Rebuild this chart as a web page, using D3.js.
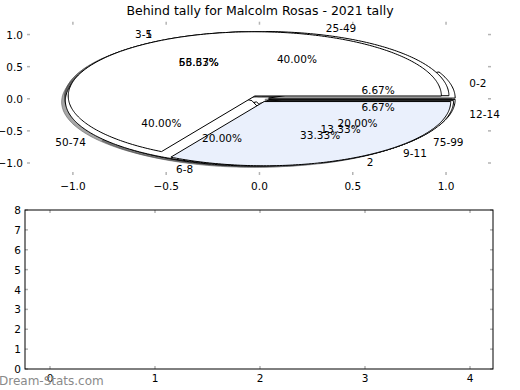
<!DOCTYPE html>
<html>
<head>
<meta charset="utf-8">
<script src="https://cdn.jsdelivr.net/npm/d3@7"></script>
<style>
  body { margin: 0; background: #fff; }
  svg { display: block; }
  text { font-family: "DejaVu Sans", sans-serif; }
</style>
</head>
<body>
<div id="chart"></div>
<script>
const chartTitle = "Behind tally for Malcolm Rosas - 2021 tally";

// three pies got drawn on the same axes
const labelsA = ["1", "2"];
const valuesA = [10, 5];
const labelsB = ["0-2", "3-5", "6-8", "9-11", "12-14"];
const valuesB = [1, 8, 3, 2, 1];
const labelsC = ["25-49", "50-74", "75-99"];
const valuesC = [6, 6, 3];

const pieTicks = [-1.0, -0.5, 0.0, 0.5, 1.0];
const barXTicks = [0, 1, 2, 3, 4];
const barYTicks = [0, 1, 2, 3, 4, 5, 6, 7, 8];

const watermark = "Dream-Stats.com";

const W = 520, H = 390;
const svg = d3.select("#chart").append("svg")
  .attr("width", W)
  .attr("height", H);

const tickColor = "#b4b4b4";
const fmtTick = d => d3.format(".1f")(d).replace("-", "\u2212");

// ---- top axes (pie) ----
var px = d3.scaleLinear().domain([-1.246, 1.241]).range([27, 491]);
var py = d3.scaleLinear().domain([-1.187, 1.2]).range([175, 21.7]);

svg.append("text")
  .attr("x", 260)
  .attr("y", 14.5)
  .attr("text-anchor", "middle")
  .attr("font-size", 12.5)
  .text(chartTitle);

const topTicks = svg.append("g").attr("stroke", tickColor).attr("stroke-width", 1.5);
pieTicks.forEach(t => {
  topTicks.append("line").attr("x1", px(t)).attr("x2", px(t)).attr("y1", py.range()[1]).attr("y2", py.range()[1] + 3);
  topTicks.append("line").attr("x1", px(t)).attr("x2", px(t)).attr("y1", py.range()[0]).attr("y2", py.range()[0] - 3);
  topTicks.append("line").attr("y1", py(t)).attr("y2", py(t)).attr("x1", px.range()[0]).attr("x2", px.range()[0] + 3);
  topTicks.append("line").attr("y1", py(t)).attr("y2", py(t)).attr("x1", px.range()[1]).attr("x2", px.range()[1] - 3);
});
pieTicks.forEach(t => {
  svg.append("text")
    .attr("x", px(t))
    .attr("y", py.range()[0] + 15)
    .attr("text-anchor", "middle")
    .attr("font-size", 10.5)
    .text(fmtTick(t));
  svg.append("text")
    .attr("x", px.range()[0] - 4)
    .attr("y", py(t) + 4)
    .attr("text-anchor", "end")
    .attr("font-size", 10.5)
    .text(fmtTick(t));
});

// draw order: B, then C, then A on top
const pies = [
  { labels: labelsB, values: valuesB, colors: ["#ffffff", "#ffffff", "#ffffff", "#ffffff", "#ffffff"] },
  { labels: labelsC, values: valuesC, colors: ["#ffffff", "#ffffff", "#ffffff"] },
  { labels: labelsA, values: valuesA, colors: ["#ffffff", "#eaf0fc"] }
];
const explode = 0.05;
const shadowOff = -0.02;

const pieGen = d3.pie().sort(null).startAngle(0).endAngle(2 * Math.PI);

const wedgeLine = d3.line()
  .x(d => px(d[0]))
  .y(d => py(d[1]))
  .curve(d3.curveLinearClosed);

function wedgePoints(cx, cy, a0, a1) {
  const pts = [[cx, cy]];
  const n = Math.max(2, Math.ceil((a1 - a0) / (Math.PI / 180)));
  for (let i = 0; i <= n; i++) {
    const a = a0 + (a1 - a0) * i / n;
    pts.push([cx + Math.cos(a), cy + Math.sin(a)]);
  }
  return pts;
}

const wedges = [];
pies.forEach(p => {
  const total = d3.sum(p.values);
  pieGen(p.values).forEach((arc, i) => {
    const mid = (arc.startAngle + arc.endAngle) / 2;
    wedges.push({
      cx: explode * Math.cos(mid),
      cy: explode * Math.sin(mid),
      a0: arc.startAngle,
      a1: arc.endAngle,
      mid: mid,
      color: p.colors[i],
      label: p.labels[i],
      pct: (100 * p.values[i] / total).toFixed(2) + "%"
    });
  });
});

// shadows sit under every wedge
const shadowG = svg.append("g");
wedges.forEach(w => {
  const c = d3.rgb(w.color);
  const sc = d3.rgb(c.r * 0.3, c.g * 0.3, c.b * 0.3);
  shadowG.append("path")
    .attr("d", wedgeLine(wedgePoints(w.cx + shadowOff, w.cy + shadowOff, w.a0, w.a1)))
    .attr("fill", sc)
    .attr("fill-opacity", 0.5)
    .attr("stroke", sc)
    .attr("stroke-opacity", 0.5);
});

const wedgeG = svg.append("g");
wedges.forEach(w => {
  wedgeG.append("path")
    .attr("d", wedgeLine(wedgePoints(w.cx, w.cy, w.a0, w.a1)))
    .attr("fill", w.color)
    .attr("stroke", "#000")
    .attr("stroke-width", 1)
    .attr("stroke-linejoin", "round");
});

const textG = svg.append("g").attr("font-size", 10.5);
wedges.forEach(w => {
  const lx = w.cx + 1.1 * Math.cos(w.mid);
  const ly = w.cy + 1.1 * Math.sin(w.mid);
  textG.append("text")
    .attr("x", px(lx))
    .attr("y", py(ly))
    .attr("dy", "0.35em")
    .attr("text-anchor", lx > 0 ? "start" : "end")
    .text(w.label);
  textG.append("text")
    .attr("x", px(w.cx + 0.6 * Math.cos(w.mid)))
    .attr("y", py(w.cy + 0.6 * Math.sin(w.mid)))
    .attr("dy", "0.35em")
    .attr("text-anchor", "middle")
    .text(w.pct);
});

// ---- bottom axes (empty) ----
var bx = d3.scaleLinear().domain([-0.238, 4.219]).range([25, 493]);
var by = d3.scaleLinear().domain([0, 8]).range([369, 210]);

const botTicks = svg.append("g").attr("stroke", tickColor).attr("stroke-width", 1.5);
barXTicks.forEach(t => {
  botTicks.append("line").attr("x1", bx(t)).attr("x2", bx(t)).attr("y1", 369).attr("y2", 366);
  botTicks.append("line").attr("x1", bx(t)).attr("x2", bx(t)).attr("y1", 210).attr("y2", 213);
});
barYTicks.forEach(t => {
  botTicks.append("line").attr("y1", by(t)).attr("y2", by(t)).attr("x1", 25).attr("x2", 28);
  botTicks.append("line").attr("y1", by(t)).attr("y2", by(t)).attr("x1", 493).attr("x2", 490);
});

svg.append("rect")
  .attr("x", bx.range()[0])
  .attr("y", by.range()[1])
  .attr("width", bx.range()[1] - bx.range()[0])
  .attr("height", by.range()[0] - by.range()[1])
  .attr("fill", "none")
  .attr("stroke", "#000")
  .attr("stroke-width", 1);

barXTicks.forEach(t => {
  svg.append("text")
    .attr("x", bx(t))
    .attr("y", 382)
    .attr("text-anchor", "middle")
    .attr("font-size", 10.5)
    .text(t);
});
barYTicks.forEach(t => {
  svg.append("text")
    .attr("x", 21)
    .attr("y", by(t) + 4)
    .attr("text-anchor", "end")
    .attr("font-size", 10.5)
    .text(t);
});

svg.append("text")
  .attr("x", -1)
  .attr("y", 385)
  .attr("font-size", 12)
  .attr("fill", "#8a8a8a")
  .text(watermark);
</script>
</body>
</html>
